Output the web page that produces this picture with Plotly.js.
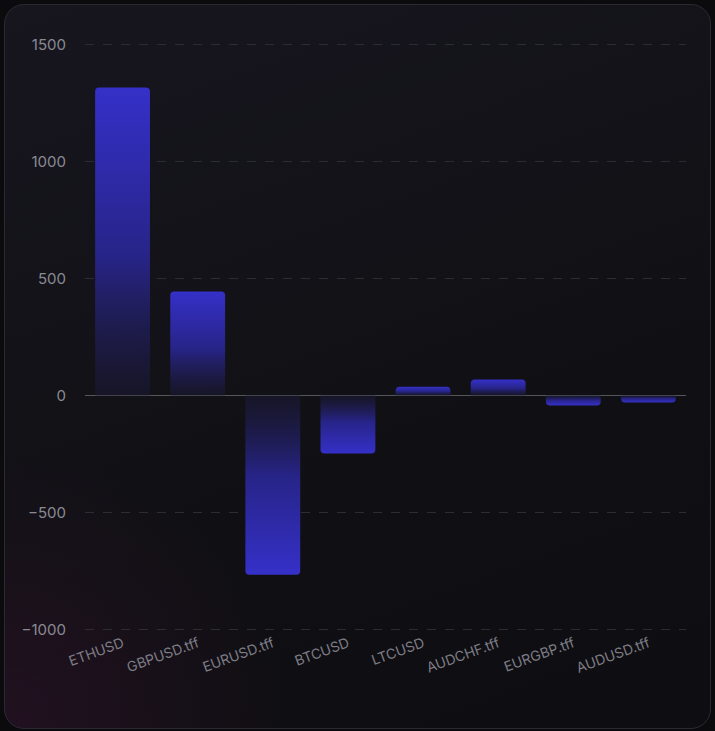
<!DOCTYPE html>
<html><head><meta charset="utf-8">
<script src="https://cdn.plot.ly/plotly-3.0.1.min.js"></script>
<style>
html,body{margin:0;padding:0;background:#0b0b0e;width:715px;height:731px;overflow:hidden}
#card{position:absolute;left:4px;top:4px;width:705px;height:723px;border-radius:20px;border:1px solid #2a2a32;
background:radial-gradient(circle at 0% 100%, rgba(42,18,38,0.7) 0%, rgba(20,18,26,0) 28%), linear-gradient(160deg,#17161f 0%,#101014 60%,#0e0d11 100%);}
#chart{position:absolute;left:0;top:0;width:715px;height:731px}
</style></head><body>
<div id="card"></div>
<div id="chart"></div>
<svg width="0" height="0" style="position:absolute">
<defs>
<linearGradient id="gPos" x1="0" y1="0" x2="0" y2="1">
<stop offset="0" stop-color="#3530c8"/><stop offset="0.55" stop-color="#272488"/><stop offset="1" stop-color="#1a1830" stop-opacity="0.6"/>
</linearGradient>
<linearGradient id="gNeg" x1="0" y1="1" x2="0" y2="0">
<stop offset="0" stop-color="#3530c8"/><stop offset="0.55" stop-color="#272488"/><stop offset="1" stop-color="#1a1830" stop-opacity="0.6"/>
</linearGradient>
</defs></svg>
<script>
const symbols=["ETHUSD","GBPUSD.tff","EURUSD.tff","BTCUSD","LTCUSD","AUDCHF.tff","EURGBP.tff","AUDUSD.tff"];
const profits=[1316,444,-765,-248,38,68,-43,-30];
const tickVals=[-1000,-500,0,500,1000,1500];
Plotly.newPlot('chart',[{type:'bar',x:symbols,y:profits,marker:{color:'#3530c8',cornerradius:4},hoverinfo:'x+y'}],{
width:715,height:731,paper_bgcolor:'rgba(0,0,0,0)',plot_bgcolor:'rgba(0,0,0,0)',
margin:{l:85,r:29,t:42,b:99},bargap:0.27,showlegend:false,
font:{family:'Inter, sans-serif',color:'#8a8a93',size:14},
xaxis:{tickangle:-20,showgrid:false,zeroline:false,ticks:'',tickfont:{size:14,color:'#7d7d86'}},
yaxis:{range:[-1010,1510],tickvals:tickVals,showgrid:true,gridcolor:'#2c2c34',griddash:'dash',
zeroline:true,zerolinecolor:'#55555c',zerolinewidth:1,ticks:'',ticklabelstandoff:18,tickfont:{size:15,color:'#8a8a93'}}
},{displayModeBar:false,staticPlot:true}).then(()=>{
 document.querySelectorAll('#chart .bars .point path').forEach((p,i)=>{
   p.style.fill = profits[i]>=0 ? 'url(#gPos)' : 'url(#gNeg)';
 });
});
</script></body></html>
